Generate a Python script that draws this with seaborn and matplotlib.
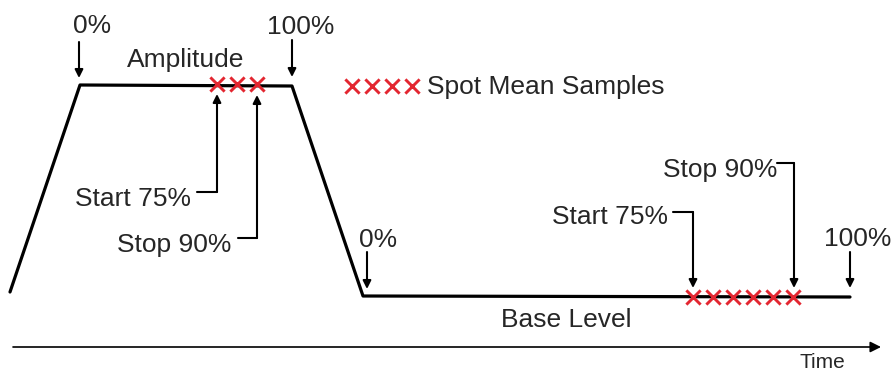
import numpy as np
import pandas as pd
import matplotlib
matplotlib.use("Agg")
import matplotlib.pyplot as plt
import seaborn as sns

# waveform outline (diagram units, y grows downward)
wave_x = [10, 80, 292, 363, 850]
wave_y = [292, 85, 86, 296, 297]

# spot mean samples
top_sample_x = [217, 237, 257]
top_sample_y = [84, 84, 84]
base_sample_x = [693, 713, 733, 753, 773, 793]
base_sample_y = [297, 297, 297, 297, 297, 297]
legend_sample_x = [352, 372, 392, 412]
legend_sample_y = [86, 86, 86, 86]

RED = "#e32630"
FS = 19

sns.set_theme(style="white")
plt.rcParams["font.family"] = ["Liberation Sans", "DejaVu Sans"]

fig = plt.figure(figsize=(8.95, 3.73), dpi=100)
ax = fig.add_axes([0, 0, 1, 1])
ax.set_xlim(0, 895)
ax.set_ylim(373, 0)
ax.axis("off")

wave = pd.DataFrame({"x": wave_x, "y": wave_y})
sns.lineplot(data=wave, x="x", y="y", ax=ax, color="black", lw=2.3,
             sort=False, estimator=None)

samples = pd.DataFrame({
    "x": top_sample_x + base_sample_x + legend_sample_x,
    "y": top_sample_y + base_sample_y + legend_sample_y,
})
sns.scatterplot(data=samples, x="x", y="y", ax=ax, marker="x", color=RED,
                s=105, linewidth=2.1, zorder=5)

arrow = dict(arrowstyle="-|>", color="black", lw=1.5, mutation_scale=12,
             shrinkA=0, shrinkB=0)


def down_arrow(x, y0, y1, label, lx, ly):
    ax.annotate("", xy=(x, y1), xytext=(x, y0), arrowprops=arrow)
    ax.text(lx, ly, label, fontsize=FS, ha="center", va="baseline")


def elbow(x_line_start, y_corner, x, y_tip, label, text_end, baseline):
    ax.plot([x_line_start, x], [y_corner, y_corner], color="black", lw=1.5)
    ax.annotate("", xy=(x, y_tip), xytext=(x, y_corner), arrowprops=arrow)
    ax.text(text_end, baseline, label, fontsize=FS, ha="right", va="baseline")


# top markers
down_arrow(79, 42, 78, "0%", 92, 33)
down_arrow(292, 40, 77, "100%", 301, 34)
ax.text(186, 67, "Amplitude", fontsize=FS, ha="center", va="baseline")

elbow(197, 192, 217, 94, "Start 75%", 191, 206)
elbow(238, 238, 257, 95, "Stop 90%", 231, 252)

# base markers
down_arrow(367, 252, 289, "0%", 378, 247)
down_arrow(850, 252, 288, "100%", 858, 246)
elbow(673, 212, 693, 288, "Start 75%", 668, 224)
elbow(777, 163, 794, 288, "Stop 90%", 777, 177)
ax.text(566, 327, "Base Level", fontsize=FS, ha="center", va="baseline")

# legend text
ax.text(427, 94, "Spot Mean Samples", fontsize=FS, ha="left", va="baseline")

# time axis
ax.annotate("", xy=(881, 347), xytext=(13, 347),
            arrowprops=dict(arrowstyle="-|>", color="black", lw=1.2,
                            mutation_scale=16, shrinkA=0, shrinkB=0))
ax.text(822, 368, "Time", fontsize=15, ha="center", va="baseline")

fig.savefig("out.png", dpi=100)
